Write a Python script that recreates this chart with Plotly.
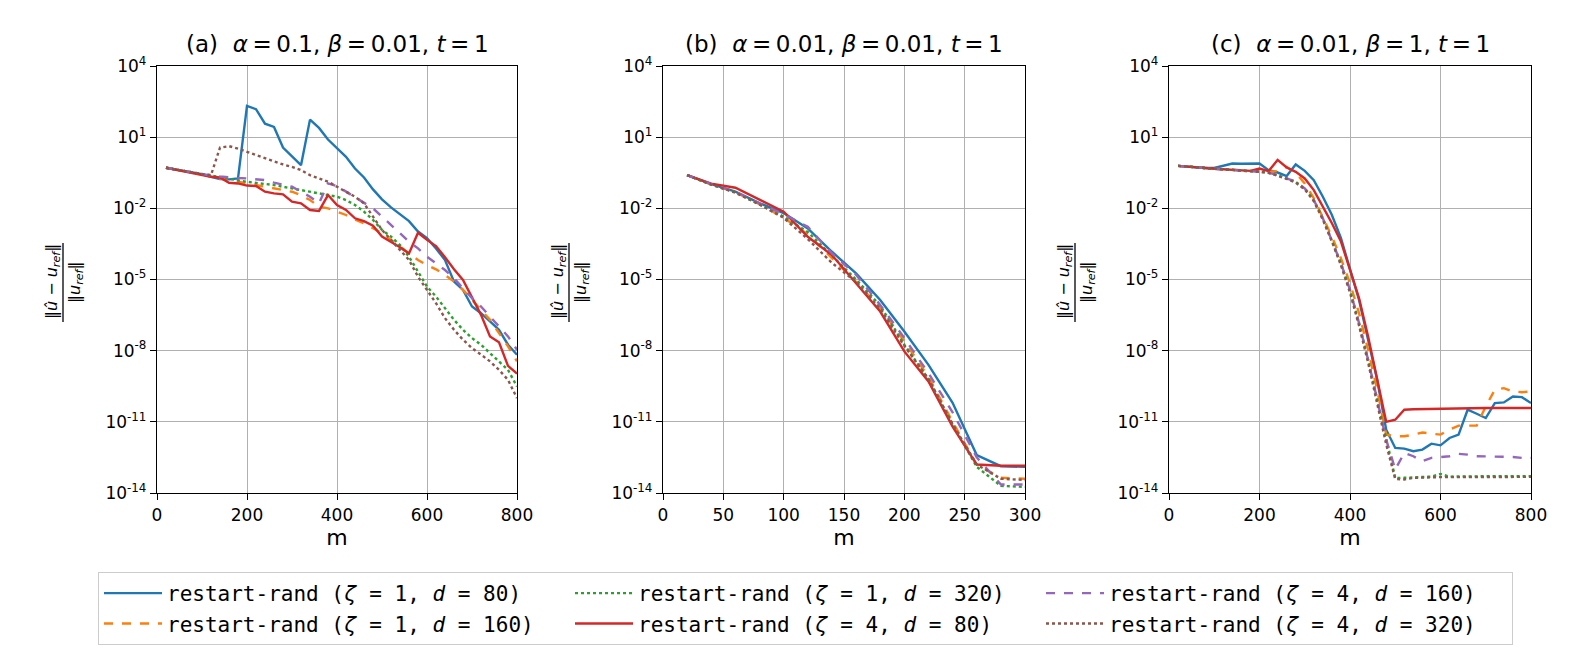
"""Relative error vs m for restart-rand, three parameter settings"""

import numpy as np
import plotly.graph_objects as go

# x grids
m_a = [20, 40, 60, 80, 100, 120, 140, 160, 180, 200, 220, 240, 260, 280, 300, 320, 340, 360, 380, 400,
       420, 440, 460, 480, 500, 520, 540, 560, 580, 600, 620, 640, 660, 680, 700, 720, 740, 760, 780, 800]
m_b = [20, 40, 60, 80, 100, 120, 140, 160, 180, 200, 220, 240, 260, 280, 300]
m_c = m_a

# log10 of relative error, panel (a)
a_z1_d80 = [-0.29, -0.36, -0.43, -0.50, -0.56, -0.67, -0.77, -0.78, -0.74, 2.32, 2.18, 1.57, 1.43, 0.56, 0.17,
            -0.18, 1.74, 1.39, 0.90, 0.52, 0.17, -0.32, -0.70, -1.20, -1.62, -1.96, -2.24, -2.54, -2.98, -3.26,
            -3.69, -4.18, -5.09, -5.44, -6.14, -6.42, -6.77, -7.12, -7.75, -8.17]
a_z1_d160 = [-0.29, -0.36, -0.43, -0.50, -0.56, -0.67, -0.74, -0.81, -0.88, -0.95, -1.02, -1.09, -1.16, -1.23,
             -1.30, -1.45, -1.65, -1.93, -2.00, -2.14, -2.28, -2.47, -2.63, -2.84, -3.05, -3.33, -3.62, -3.90,
             -4.18, -4.39, -4.57, -4.81, -5.09, -5.44, -5.86, -6.28, -6.70, -7.26, -7.82, -8.45]
a_z1_d320 = [-0.29, -0.36, -0.43, -0.50, -0.56, -0.64, -0.70, -0.76, -0.82, -0.88, -0.92, -0.95, -1.02, -1.09,
             -1.16, -1.23, -1.28, -1.34, -1.42, -1.51, -1.65, -1.86, -2.14, -2.49, -2.91, -3.19, -3.55, -4.04,
             -4.67, -5.30, -5.72, -6.21, -6.70, -7.12, -7.47, -7.75, -8.10, -8.45, -8.81, -9.51]
a_z4_d80 = [-0.29, -0.36, -0.43, -0.50, -0.57, -0.67, -0.70, -0.92, -0.95, -1.04, -1.06, -1.30, -1.37, -1.41,
            -1.72, -1.79, -2.07, -2.11, -1.44, -1.86, -2.07, -2.42, -2.54, -2.73, -3.19, -3.40, -3.64, -3.90,
            -3.03, -3.33, -3.59, -4.06, -4.57, -5.02, -5.79, -6.49, -7.40, -7.65, -8.64, -8.97]
a_z4_d160 = [-0.29, -0.36, -0.43, -0.50, -0.56, -0.62, -0.66, -0.70, -0.72, -0.74, -0.77, -0.81, -0.92, -1.02,
             -1.09, -1.30, -1.51, -1.79, -0.95, -1.06, -1.30, -1.51, -1.76, -2.00, -2.35, -2.70, -3.05, -3.40,
             -3.69, -4.04, -4.32, -4.60, -4.95, -5.37, -5.79, -6.14, -6.56, -6.98, -7.40, -7.96]
a_z4_d320 = [-0.29, -0.36, -0.43, -0.50, -0.56, -0.60, 0.56, 0.62, 0.52, 0.38, 0.24, 0.10, -0.01, -0.15, -0.25,
             -0.39, -0.60, -0.74, -0.88, -1.09, -1.30, -1.51, -1.79, -2.35, -2.91, -3.33, -3.76, -4.18, -4.88,
             -5.44, -6.00, -6.63, -7.12, -7.54, -7.89, -8.17, -8.45, -8.81, -9.23, -10.00]

# panel (b)
b_z1_d80 = [-0.60, -0.98, -1.30, -1.78, -2.20, -2.85, -3.83, -4.74, -5.86, -7.19, -8.60, -10.20, -12.40, -12.87, -12.90]
b_z1_d160 = [-0.60, -1.00, -1.32, -1.82, -2.40, -3.10, -4.10, -5.10, -6.20, -7.60, -9.10, -11.00, -12.80, -13.36, -13.40]
b_z1_d320 = [-0.60, -1.00, -1.32, -1.82, -2.35, -3.00, -4.00, -5.00, -6.10, -7.75, -9.20, -11.10, -12.90, -13.70, -13.74]
b_z4_d80 = [-0.60, -0.96, -1.13, -1.65, -2.14, -3.20, -3.97, -5.16, -6.35, -8.03, -9.30, -11.20, -12.80, -12.85, -12.85]
b_z4_d160 = [-0.60, -0.98, -1.30, -1.80, -2.25, -2.78, -3.90, -4.80, -6.07, -7.47, -8.95, -10.60, -12.50, -13.64, -13.64]
b_z4_d320 = [-0.60, -1.00, -1.34, -1.84, -2.40, -3.30, -4.30, -5.10, -6.25, -7.80, -9.20, -11.10, -12.80, -13.40, -13.45]

# panel (c)
c_z1_d80 = [-0.21, -0.25, -0.28, -0.30, -0.30, -0.22, -0.11, -0.12, -0.12, -0.11, -0.39, -0.49, -0.64, -0.15,
            -0.42, -0.81, -1.51, -2.28, -3.26, -4.60, -5.86, -7.54, -9.23, -11.33, -12.10, -12.13, -12.24, -12.17,
            -11.92, -11.99, -11.68, -11.54, -10.49, -10.66, -10.84, -10.21, -10.18, -9.93, -9.96, -10.21]
c_z1_d160 = [-0.21, -0.25, -0.28, -0.30, -0.33, -0.35, -0.37, -0.40, -0.42, -0.44, -0.46, -0.43, -0.25, -0.50,
             -0.95, -1.58, -2.35, -3.19, -4.11, -5.16, -6.42, -7.96, -9.65, -11.54, -11.61, -11.61, -11.54, -11.45,
             -11.50, -11.54, -11.33, -11.16, -11.16, -11.16, -10.35, -9.65, -9.58, -9.72, -9.75, -9.72]
c_z1_d320 = [-0.21, -0.25, -0.28, -0.30, -0.33, -0.35, -0.37, -0.40, -0.42, -0.46, -0.50, -0.60, -0.74, -0.88,
             -1.16, -1.65, -2.42, -3.33, -4.32, -5.44, -6.84, -8.38, -10.07, -11.75, -13.37, -13.36, -13.34, -13.33,
             -13.31, -13.20, -13.31, -13.30, -13.30, -13.30, -13.31, -13.30, -13.30, -13.30, -13.29, -13.29]
c_z4_d80 = [-0.21, -0.25, -0.28, -0.30, -0.33, -0.35, -0.37, -0.40, -0.42, -0.32, -0.43, 0.04, -0.28, -0.46,
            -0.74, -1.23, -1.93, -2.63, -3.40, -4.60, -5.79, -7.40, -9.23, -11.00, -10.91, -10.49, -10.47, -10.46,
            -10.46, -10.45, -10.45, -10.44, -10.43, -10.42, -10.42, -10.42, -10.42, -10.42, -10.42, -10.42]
c_z4_d160 = [-0.21, -0.25, -0.28, -0.30, -0.33, -0.35, -0.37, -0.40, -0.42, -0.46, -0.50, -0.60, -0.74, -0.88,
             -1.16, -1.65, -2.42, -3.33, -4.32, -5.44, -6.84, -8.38, -10.07, -11.75, -13.01, -12.31, -12.45, -12.66,
             -12.52, -12.49, -12.45, -12.35, -12.38, -12.45, -12.45, -12.45, -12.45, -12.48, -12.52, -12.52]
c_z4_d320 = [-0.21, -0.25, -0.28, -0.30, -0.33, -0.35, -0.37, -0.40, -0.42, -0.46, -0.50, -0.62, -0.76, -0.92,
             -1.20, -1.70, -2.48, -3.40, -4.40, -5.55, -6.95, -8.50, -10.20, -11.95, -13.41, -13.43, -13.36, -13.34,
             -13.34, -13.33, -13.33, -13.33, -13.33, -13.33, -13.33, -13.33, -13.32, -13.32, -13.32, -13.32]

panel_titles = ["(a)  <i>α</i>\u2009=\u20090.1, <i>β</i>\u2009=\u20090.01, <i>t</i>\u2009=\u20091",
                "(b)  <i>α</i>\u2009=\u20090.01, <i>β</i>\u2009=\u20090.01, <i>t</i>\u2009=\u20091",
                "(c)  <i>α</i>\u2009=\u20090.01, <i>β</i>\u2009=\u20091, <i>t</i>\u2009=\u20091"]
series_labels = ["restart-rand (<i>ζ</i> = 1, <i>d</i> = 80)", "restart-rand (<i>ζ</i> = 1, <i>d</i> = 160)",
                 "restart-rand (<i>ζ</i> = 1, <i>d</i> = 320)", "restart-rand (<i>ζ</i> = 4, <i>d</i> = 80)",
                 "restart-rand (<i>ζ</i> = 4, <i>d</i> = 160)", "restart-rand (<i>ζ</i> = 4, <i>d</i> = 320)"]
y_tick_exp = [4, 1, -2, -5, -8, -11, -14]
x_ticks = [[0, 200, 400, 600, 800], [0, 50, 100, 150, 200, 250, 300], [0, 200, 400, 600, 800]]
x_ranges = [[0, 800], [0, 300], [0, 800]]

colors = ['#1f77b4', '#ff7f0e', '#2ca02c', '#d62728', '#9467bd', '#8c564b']
dashes = ['solid', 'dash', 'dot', 'solid', 'dash', 'dot']
# legend fills row by row, ranks give the column order of the original
legend_rank = [1, 4, 2, 5, 3, 6]

panels = [
    (m_a, [a_z1_d80, a_z1_d160, a_z1_d320, a_z4_d80, a_z4_d160, a_z4_d320]),
    (m_b, [b_z1_d80, b_z1_d160, b_z1_d320, b_z4_d80, b_z4_d160, b_z4_d320]),
    (m_c, [c_z1_d80, c_z1_d160, c_z1_d320, c_z4_d80, c_z4_d160, c_z4_d320]),
]

W, H = 1578, 658
OFF = 8  # the page body margin shifts the figure by this much
x_px = [[157, 517], [663, 1025], [1169, 1531]]
x_domains = [[(a - OFF) / W, (b - OFF) / W] for a, b in x_px]
y_domain = [(H - 493 + OFF) / H, (H - 66 + OFF) / H]


def py(y):
    """pixel row in the target picture -> paper fraction"""
    return (H - y + OFF) / H


fig = go.Figure()
for p, (m, series) in enumerate(panels):
    sfx = '' if p == 0 else str(p + 1)
    for i, vals in enumerate(series):
        fig.add_trace(go.Scatter(
            x=m, y=10 ** np.array(vals), mode='lines', name=series_labels[i],
            line=dict(color=colors[i], dash=dashes[i], width=2.4),
            showlegend=(p == 0), legendrank=legend_rank[i],
            xaxis='x' + sfx, yaxis='y' + sfx))

axis_common = dict(showline=True, linecolor='black', linewidth=1.3, mirror=True, ticks='outside',
                   ticklen=6, tickwidth=1.2, tickcolor='black', showgrid=True, gridcolor='#b0b0b0',
                   gridwidth=1, zeroline=False, automargin=False,
                   tickfont=dict(family='DejaVu Sans', size=17, color='black'))

layout = dict(width=W, height=H, margin=dict(l=0, r=0, t=0, b=0, pad=0, autoexpand=False),
              plot_bgcolor='white', paper_bgcolor='white', font=dict(family='DejaVu Sans', color='black'))
annotations = []
shapes = []
for p in range(3):
    sfx = '' if p == 0 else str(p + 1)
    layout['xaxis' + sfx] = dict(axis_common, domain=x_domains[p], range=x_ranges[p], tickvals=x_ticks[p],
                                 anchor='y' + sfx,
                                 title=dict(text='m', font=dict(size=22), standoff=5))
    layout['yaxis' + sfx] = dict(axis_common, domain=y_domain, type='log', range=[-14, 4],
                                 tickvals=[10.0 ** e for e in y_tick_exp],
                                 ticktext=['10<sup>%d</sup>' % e for e in y_tick_exp],
                                 anchor='x' + sfx)
    x0 = x_domains[p][0]
    annotations.append(dict(text=panel_titles[p], x=(x_domains[p][0] + x_domains[p][1]) / 2, y=py(44),
                            xref='paper', yref='paper', xanchor='center', yanchor='middle',
                            showarrow=False, font=dict(size=23)))
    # y-axis label drawn as a stacked fraction
    annotations.append(dict(text='‖<i>û</i> − <i>u<sub>ref</sub></i>‖', x=x0 - 105 / W, y=py(282),
                            xref='paper', yref='paper', xanchor='center', yanchor='middle',
                            showarrow=False, textangle=-90, font=dict(size=16)))
    annotations.append(dict(text='‖<i>u<sub>ref</sub></i>‖', x=x0 - 82 / W, y=py(282),
                            xref='paper', yref='paper', xanchor='center', yanchor='middle',
                            showarrow=False, textangle=-90, font=dict(size=16)))
    shapes.append(dict(type='line', xref='paper', yref='paper', x0=x0 - 94 / W, x1=x0 - 94 / W,
                       y0=py(322), y1=py(243), line=dict(color='black', width=1.3)))

layout['annotations'] = annotations
layout['shapes'] = shapes
layout['legend'] = dict(orientation='h', x=(98 - OFF) / W, y=py(572), xanchor='left', yanchor='top',
                        entrywidth=398, entrywidthmode='pixels', bordercolor='#cccccc', borderwidth=1,
                        bgcolor='white', font=dict(family='DejaVu Sans Mono', size=21), itemwidth=58)
fig.update_layout(layout)

fig.write_html("out.html")
